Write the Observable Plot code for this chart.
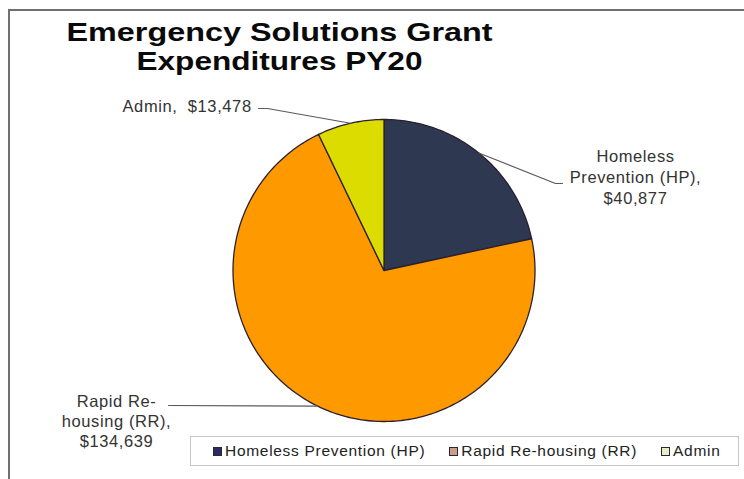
<!DOCTYPE html>
<html><head><meta charset="utf-8">
<script src="https://cdn.jsdelivr.net/npm/d3@7"></script>
<script src="https://cdn.jsdelivr.net/npm/@observablehq/plot@0.6"></script>
<style>
html,body{margin:0;padding:0;background:#fff;}
#wrap{position:relative;width:744px;height:479px;overflow:hidden;font-family:"Liberation Sans",Arial,sans-serif;}
#frame{position:absolute;left:8px;top:9px;width:800px;height:600px;border-top:2px solid #707070;border-left:2px solid #707070;}
#chart{position:absolute;left:0;top:0;}
#legend{position:absolute;left:190px;top:436px;width:549px;height:30px;border:1px solid #c6c6c6;box-sizing:border-box;display:flex;align-items:center;padding-left:22px;font-size:15.5px;letter-spacing:0.7px;color:#222;}
.item{display:flex;align-items:center;margin-right:24px;white-space:nowrap;}
.sw{width:7px;height:7px;border:1px solid #2a2a2a;margin-right:3px;}
</style></head><body>
<div id="wrap"><div id="chart"></div><div id="frame"></div><div id="legend"></div></div>
<script>
// ---- data ----
const categories = ["Homeless Prevention (HP)", "Rapid Re-housing (RR)", "Admin"];
const values = [40877, 134639, 13478];
const labelHeads = [["Homeless", "Prevention (HP),"], ["Rapid Re-", "housing (RR),"], ["Admin,  "]];
const titleLines = ["Emergency Solutions Grant", "Expenditures PY20"];
const sliceColors = ["#2e3850", "#ff9900", "#dcdc00"];
const legendColors = ["#2b2b62", "#c99c8c", "#ebebcb"];

// ---- layout ----
const cx = 383.5, cy = 270, r = 151;
const fmt = d3.format("$,");
const labelLayout = [
  {x: 635, y0: 156.5, dy: 21, anchor: "middle", elbow: [[555, 183], [562, 183]]},
  {x: 116, y0: 401.5, dy: 20, anchor: "middle", elbow: [[168, 405]]},
  {x: 122, y0: 106, dy: 20, anchor: "start", elbow: [[267, 108], [258, 108]]}
];

const arcs = d3.pie().sort(null).value(d => d)(values);
const pt = (t, rad) => [cx + rad * Math.sin(t), cy - rad * Math.cos(t)];

const features = arcs.map((a, i) => {
  const ring = [[cx, cy]];
  const n = Math.max(2, Math.ceil((a.endAngle - a.startAngle) / (Math.PI / 180)));
  for (let k = 0; k <= n; k++) ring.push(pt(a.startAngle + (a.endAngle - a.startAngle) * k / n, r));
  ring.push([cx, cy]);
  return {type: "Feature", properties: {category: categories[i], value: values[i]},
          geometry: {type: "Polygon", coordinates: [ring]}};
});

const leaders = [];
arcs.forEach((a, i) => {
  const mid = (a.startAngle + a.endAngle) / 2;
  const pts = [pt(mid, r), ...labelLayout[i].elbow];
  pts.forEach(([x, y]) => leaders.push({category: categories[i], x, y}));
});

const labelRows = [];
arcs.forEach((a, i) => {
  const L = labelLayout[i];
  let lines = labelHeads[i].slice();
  if (lines.length === 1) lines = [lines[0] + fmt(values[i])];
  else lines.push(fmt(values[i]));
  lines.forEach((t, k) => labelRows.push({x: L.x, y: L.y0 + k * L.dy, text: t, anchor: L.anchor}));
});

const titleRows = titleLines.map((t, k) => ({x: 279, y: 32 + k * 29.5, text: t}));

const chart = Plot.plot({
  width: 744, height: 479, margin: 0,
  projection: {type: "identity"},
  style: {fontFamily: "'Liberation Sans', Arial, sans-serif", background: "transparent", overflow: "visible"},
  color: {domain: categories, range: sliceColors},
  marks: [
    Plot.geo(features, {fill: d => d.properties.category, stroke: "#2a2030", strokeWidth: 1.3}),
    Plot.line(leaders, {x: "x", y: "y", z: "category", stroke: "#5a5a5a", strokeWidth: 1.2}),
    Plot.text(labelRows.filter(d => d.anchor === "middle"), {x: "x", y: "y", text: "text", textAnchor: "middle", fontSize: 16.5, fill: "#333"}),
    Plot.text(labelRows.filter(d => d.anchor === "start"), {x: "x", y: "y", text: "text", textAnchor: "start", fontSize: 16.5, fill: "#333"}),
    Plot.text(titleRows, {x: "x", y: "y", text: "text", textAnchor: "middle", fontSize: 26, fontWeight: "bold", fill: "#0a0a0a"})
  ]
});
document.getElementById("chart").appendChild(chart);

// stretch title horizontally like the reference; widen label spacing
const titleWidths = [426, 286];
const labelTexts = new Set(labelRows.map(d => d.text));
chart.querySelectorAll("text").forEach(el => {
  const t = el.textContent;
  const ti = titleLines.indexOf(t);
  if (ti >= 0) {
    el.setAttribute("textLength", titleWidths[ti]);
    el.setAttribute("lengthAdjust", "spacingAndGlyphs");
  } else if (labelTexts.has(t)) {
    el.style.letterSpacing = "0.6px";
  }
});

// legend
const legend = document.getElementById("legend");
categories.forEach((c, i) => {
  const item = document.createElement("div");
  item.className = "item";
  const sw = document.createElement("span");
  sw.className = "sw";
  sw.style.background = legendColors[i];
  const tx = document.createElement("span");
  tx.textContent = c;
  item.appendChild(sw); item.appendChild(tx);
  legend.appendChild(item);
});
</script>
</body></html>
